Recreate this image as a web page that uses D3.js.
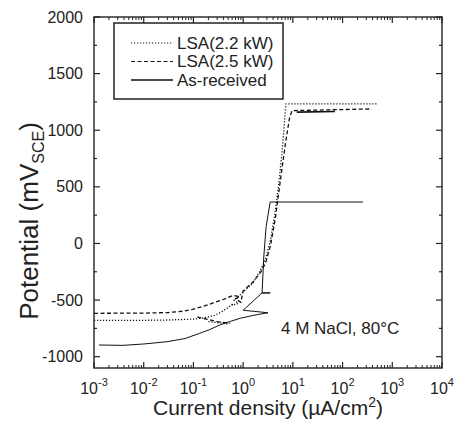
<!DOCTYPE html>
<html>
<head>
<meta charset="utf-8">
<script src="https://cdn.jsdelivr.net/npm/d3@7"></script>
<style>
  body { margin: 0; background: #fff; }
  svg { font-family: "Liberation Sans", Arial, sans-serif; }
</style>
</head>
<body>
<div id="chart"></div>
<script>
// polarization curves, current density in uA/cm2 and potential in mV(SCE)
var asReceivedI = [0.00126, 0.0038, 0.01, 0.0295, 0.0676, 0.135, 0.214, 0.339, 0.55, 0.87, 1.74, 3.16,
                   1.0, 2.4, 3.5, 2.4, 2.6, 2.9, 3.5, 257];
var asReceivedE = [-897, -900, -888, -868, -840, -793, -760, -720, -689, -661, -632, -612,
                   -590, -437, -437, -437, -120, 150, 366, 366];

var lsa22I = [0.001, 0.01, 0.0316, 0.1, 0.158, 0.251, 0.316, 0.398, 0.5, 0.63,
              0.6, 0.8, 0.65, 0.75, 1.0, 1.58, 2.24, 2.82, 3.55, 4.47, 5.25, 6.03, 6.6, 7.24, 493];
var lsa22E = [-680, -679, -676, -668, -658, -640, -620, -595, -565, -530,
              -545, -530, -500, -480, -430, -349, -234, -140, 30, 296, 540, 800, 1002, 1232, 1232];
var lsa22CathI = [0.2, 0.5];
var lsa22CathE = [-690, -710];

var lsa25I = [0.001, 0.01, 0.0316, 0.063, 0.1, 0.158, 0.251, 0.398, 0.63,
              0.85, 0.7, 0.9, 1.0, 1.58, 2.24, 2.82, 3.55, 4.47, 5.62, 7.08, 8.5, 9.6, 390];
var lsa25E = [-617, -615, -610, -598, -580, -555, -525, -495, -458,
              -470, -490, -520, -420, -340, -255, -173, -20, 230, 560, 880, 1100, 1173, 1188];
var lsa25CathI = [0.12, 0.3, 0.55];
var lsa25CathE = [-650, -690, -705];
var lsa25RevI = [12, 70];
var lsa25RevE = [1160, 1166];

var xTickExp = [-3, -2, -1, 0, 1, 2, 3, 4];
var yTicks = [-1000, -500, 0, 500, 1000, 1500, 2000];
var legendNames = ["LSA(2.2 kW)", "LSA(2.5 kW)", "As-received"];

var width = 458, height = 426;
var margin = {top: 17, right: 16, bottom: 58, left: 94};
var w = width - margin.left - margin.right;
var h = height - margin.top - margin.bottom;

var svg = d3.select("#chart").append("svg")
    .attr("width", width)
    .attr("height", height);

svg.append("rect").attr("width", width).attr("height", height).attr("fill", "#fff");

var g = svg.append("g").attr("transform", "translate(" + margin.left + "," + margin.top + ")");

var x = d3.scaleLog().domain([1e-3, 1e4]).range([0, w]);
var y = d3.scaleLinear().domain([-1100, 2000]).range([h, 0]);

// minor ticks
var xMinor = [];
xTickExp.forEach(function(e) {
    if (e < 4) for (var k = 2; k <= 9; k++) xMinor.push(k * Math.pow(10, e));
});
var yMinor = d3.range(-1000, 2001, 250);

function xAxisTicks(sel, y0, dir) {
    sel.selectAll(null).data(xTickExp).enter().append("line")
        .attr("x1", function(d) { return x(Math.pow(10, d)); })
        .attr("x2", function(d) { return x(Math.pow(10, d)); })
        .attr("y1", y0).attr("y2", y0 + dir * 6)
        .attr("stroke", "#222").attr("stroke-width", 1.2);
    sel.selectAll(null).data(xMinor).enter().append("line")
        .attr("x1", function(d) { return x(d); })
        .attr("x2", function(d) { return x(d); })
        .attr("y1", y0).attr("y2", y0 + dir * 3)
        .attr("stroke", "#222").attr("stroke-width", 1);
}
function yAxisTicks(sel, x0, dir) {
    sel.selectAll(null).data(yMinor).enter().append("line")
        .attr("x1", x0).attr("x2", function(d) { return x0 + dir * (d % 500 === 0 ? 6 : 3); })
        .attr("y1", function(d) { return y(d); })
        .attr("y2", function(d) { return y(d); })
        .attr("stroke", "#222").attr("stroke-width", 1.2);
}

var axes = g.append("g");
xAxisTicks(axes, h, -1);
xAxisTicks(axes, 0, 1);
yAxisTicks(axes, 0, 1);
yAxisTicks(axes, w, -1);

axes.append("rect").attr("width", w).attr("height", h)
    .attr("fill", "none").attr("stroke", "#222").attr("stroke-width", 1.4);

// x tick labels 10^n
var xl = g.selectAll(".xlab").data(xTickExp).enter().append("text")
    .attr("class", "xlab")
    .attr("x", function(d) { return x(Math.pow(10, d)); })
    .attr("y", h + 26)
    .attr("text-anchor", "middle")
    .style("font-size", "16px")
    .attr("fill", "#222");
xl.append("tspan").text("10");
xl.append("tspan").attr("dy", -8).style("font-size", "11px")
    .text(function(d) { return d; });

// y tick labels
g.selectAll(".ylab").data(yTicks).enter().append("text")
    .attr("class", "ylab")
    .attr("x", -11)
    .attr("y", function(d) { return y(d); })
    .attr("dy", "0.35em")
    .attr("text-anchor", "end")
    .style("font-size", "16px")
    .attr("fill", "#222")
    .text(function(d) { return d; });

// axis titles
var xt = svg.append("text")
    .attr("x", margin.left + w / 2)
    .attr("y", 415)
    .attr("text-anchor", "middle")
    .style("font-size", "21px")
    .attr("fill", "#222");
xt.append("tspan").text("Current density (\u00b5A/cm");
xt.append("tspan").attr("dy", -8).style("font-size", "14px").text("2");
xt.append("tspan").attr("dy", 8).text(")");

var yt = svg.append("text")
    .attr("transform", "translate(38,221) rotate(-90)")
    .attr("text-anchor", "middle")
    .style("font-size", "26px")
    .attr("fill", "#222");
yt.append("tspan").text("Potential (mV");
yt.append("tspan").attr("dy", 6).style("font-size", "16px").text("SCE");
yt.append("tspan").attr("dy", -6).text(")");

// curves
var line = d3.line()
    .x(function(d) { return x(d[0]); })
    .y(function(d) { return y(d[1]); });

function pairs(a, b) { return a.map(function(v, i) { return [v, b[i]]; }); }

var plot = g.append("g");

function drawCurve(ix, ey, dash, sw) {
    plot.append("path")
        .datum(pairs(ix, ey))
        .attr("d", line)
        .attr("fill", "none")
        .attr("stroke", "#111")
        .attr("stroke-width", sw)
        .attr("stroke-linejoin", "round")
        .attr("stroke-dasharray", dash);
}

drawCurve(asReceivedI, asReceivedE, null, 1);
drawCurve(lsa22I, lsa22E, "1.2,1.8", 1.3);
drawCurve(lsa22CathI, lsa22CathE, "1.2,1.8", 1.3);
drawCurve(lsa25I, lsa25E, "4,2.5", 1.3);
drawCurve(lsa25CathI, lsa25CathE, "4,2.5", 1.3);
drawCurve(lsa25RevI, lsa25RevE, null, 1.6);

// annotation
g.append("text")
    .attr("x", 187)
    .attr("y", 317)
    .style("font-size", "17px")
    .attr("fill", "#222")
    .text("4 M NaCl, 80\u00b0C");

// legend
var legend = svg.append("g").attr("transform", "translate(114,23)");
legend.append("rect").attr("width", 169).attr("height", 76)
    .attr("fill", "#fff").attr("stroke", "#222").attr("stroke-width", 1.5);
var dashes = ["1.2,1.8", "4,2.5", null];
var items = legend.selectAll(".item").data(legendNames).enter().append("g")
    .attr("class", "item")
    .attr("transform", function(d, i) { return "translate(0," + (20 + i * 18.5) + ")"; });
items.append("line")
    .attr("x1", 17).attr("x2", 59)
    .attr("stroke", "#111").attr("stroke-width", function(d, i) { return i === 2 ? 1.5 : 1.2; })
    .attr("stroke-dasharray", function(d, i) { return dashes[i]; });
items.append("text")
    .attr("x", 63)
    .attr("dy", "0.35em")
    .style("font-size", "17px")
    .attr("fill", "#222")
    .text(function(d) { return d; });
</script>
</body>
</html>
